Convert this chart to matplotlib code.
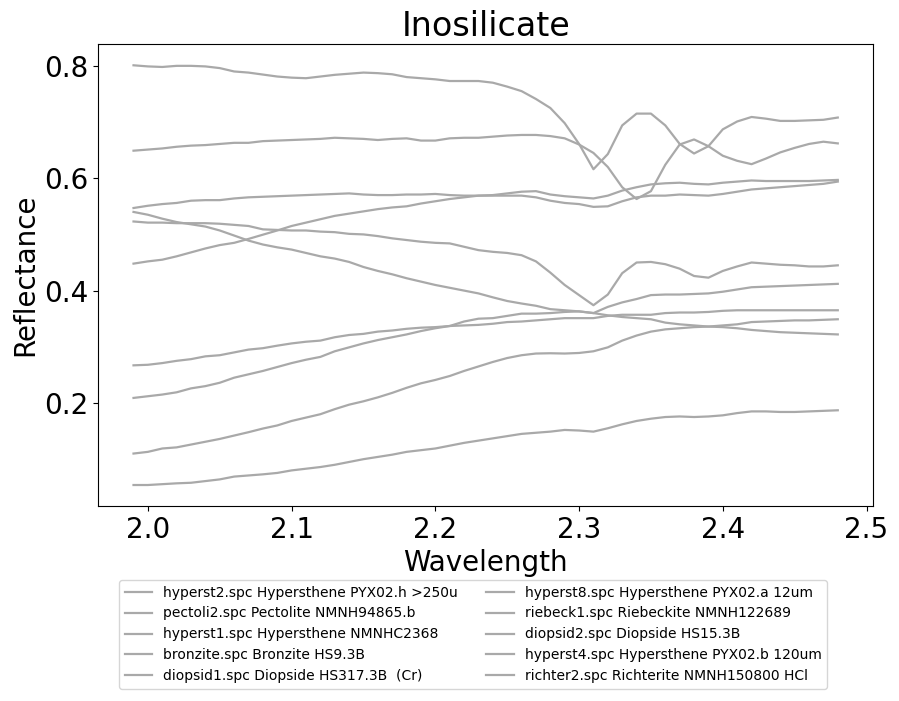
import numpy as np
import matplotlib
matplotlib.use("Agg")
import matplotlib.pyplot as plt

wavelength = [round(1.99 + 0.01 * i, 2) for i in range(50)]

labels = [
    "hyperst2.spc Hypersthene PYX02.h >250u",
    "pectoli2.spc Pectolite NMNH94865.b",
    "hyperst1.spc Hypersthene NMNHC2368",
    "bronzite.spc Bronzite HS9.3B",
    "diopsid1.spc Diopside HS317.3B  (Cr)",
    "hyperst8.spc Hypersthene PYX02.a 12um",
    "riebeck1.spc Riebeckite NMNH122689",
    "diopsid2.spc Diopside HS15.3B",
    "hyperst4.spc Hypersthene PYX02.b 120um",
    "richter2.spc Richterite NMNH150800 HCl",
]

hyperst2 = [0.054, 0.054, 0.0555, 0.057, 0.058, 0.061, 0.064, 0.069, 0.071, 0.073,
            0.0755, 0.080, 0.083, 0.086, 0.090, 0.095, 0.100, 0.104, 0.108, 0.113,
            0.116, 0.119, 0.124, 0.129, 0.133, 0.137, 0.141, 0.145, 0.147, 0.149,
            0.152, 0.151, 0.149, 0.155, 0.162, 0.168, 0.172, 0.175, 0.176, 0.175,
            0.176, 0.178, 0.182, 0.185, 0.185, 0.184, 0.184, 0.185, 0.186, 0.187]

pectoli2 = [0.801, 0.799, 0.798, 0.800, 0.800, 0.799, 0.796, 0.790, 0.788, 0.7845,
            0.781, 0.779, 0.778, 0.781, 0.784, 0.786, 0.788, 0.787, 0.785, 0.780,
            0.778, 0.776, 0.773, 0.773, 0.773, 0.770, 0.763, 0.755, 0.741, 0.725,
            0.698, 0.661, 0.616, 0.643, 0.694, 0.715, 0.715, 0.694, 0.661, 0.644,
            0.657, 0.687, 0.701, 0.709, 0.706, 0.702, 0.702, 0.703, 0.704, 0.708]

hyperst1 = [0.110, 0.113, 0.119, 0.121, 0.126, 0.131, 0.136, 0.142, 0.148, 0.1545,
            0.160, 0.168, 0.174, 0.180, 0.189, 0.197, 0.203, 0.210, 0.218, 0.227,
            0.235, 0.241, 0.248, 0.257, 0.265, 0.273, 0.280, 0.285, 0.288, 0.2885,
            0.288, 0.289, 0.292, 0.299, 0.311, 0.320, 0.327, 0.331, 0.333, 0.335,
            0.336, 0.338, 0.340, 0.344, 0.345, 0.346, 0.347, 0.347, 0.348, 0.349]

bronzite = [0.209, 0.212, 0.215, 0.219, 0.226, 0.230, 0.236, 0.245, 0.251, 0.257,
            0.264, 0.271, 0.277, 0.282, 0.292, 0.299, 0.306, 0.312, 0.317, 0.322,
            0.328, 0.333, 0.337, 0.345, 0.350, 0.351, 0.355, 0.359, 0.359, 0.360,
            0.362, 0.363, 0.360, 0.371, 0.379, 0.385, 0.392, 0.393, 0.393, 0.394,
            0.395, 0.398, 0.402, 0.406, 0.407, 0.408, 0.409, 0.410, 0.411, 0.412]

diopsid1 = [0.523, 0.521, 0.521, 0.520, 0.520, 0.520, 0.519, 0.517, 0.515, 0.509,
            0.508, 0.507, 0.507, 0.505, 0.504, 0.501, 0.500, 0.497, 0.493, 0.490,
            0.487, 0.485, 0.484, 0.478, 0.472, 0.469, 0.467, 0.463, 0.452, 0.432,
            0.410, 0.392, 0.374, 0.393, 0.431, 0.450, 0.451, 0.447, 0.439, 0.426,
            0.423, 0.435, 0.443, 0.450, 0.448, 0.446, 0.445, 0.443, 0.443, 0.445]

hyperst8 = [0.649, 0.651, 0.653, 0.656, 0.658, 0.659, 0.661, 0.663, 0.663, 0.666,
            0.667, 0.668, 0.669, 0.670, 0.672, 0.671, 0.670, 0.668, 0.670, 0.671,
            0.667, 0.667, 0.671, 0.672, 0.672, 0.674, 0.676, 0.677, 0.677, 0.675,
            0.671, 0.660, 0.645, 0.620, 0.584, 0.563, 0.577, 0.624, 0.660, 0.669,
            0.657, 0.640, 0.631, 0.625, 0.635, 0.646, 0.654, 0.661, 0.665, 0.662]

riebeck1 = [0.267, 0.268, 0.271, 0.275, 0.278, 0.283, 0.285, 0.290, 0.295, 0.2975,
            0.302, 0.306, 0.309, 0.311, 0.317, 0.321, 0.323, 0.327, 0.329, 0.332,
            0.334, 0.335, 0.337, 0.338, 0.339, 0.341, 0.344, 0.345, 0.347, 0.349,
            0.351, 0.351, 0.351, 0.355, 0.357, 0.357, 0.357, 0.360, 0.361, 0.361,
            0.362, 0.364, 0.365, 0.365, 0.365, 0.365, 0.365, 0.365, 0.365, 0.365]

diopsid2 = [0.547, 0.551, 0.554, 0.556, 0.560, 0.561, 0.561, 0.564, 0.566, 0.567,
            0.568, 0.569, 0.570, 0.571, 0.572, 0.573, 0.571, 0.570, 0.570, 0.571,
            0.571, 0.572, 0.570, 0.569, 0.569, 0.569, 0.569, 0.569, 0.566, 0.560,
            0.556, 0.554, 0.549, 0.550, 0.559, 0.566, 0.569, 0.569, 0.571, 0.570,
            0.569, 0.572, 0.576, 0.580, 0.582, 0.584, 0.586, 0.588, 0.590, 0.594]

hyperst4 = [0.540, 0.535, 0.528, 0.522, 0.518, 0.514, 0.507, 0.498, 0.489, 0.482,
            0.477, 0.473, 0.467, 0.461, 0.457, 0.451, 0.442, 0.435, 0.429, 0.422,
            0.416, 0.410, 0.405, 0.400, 0.395, 0.388, 0.3815, 0.377, 0.373, 0.367,
            0.365, 0.363, 0.360, 0.356, 0.353, 0.351, 0.349, 0.343, 0.340, 0.338,
            0.336, 0.335, 0.333, 0.330, 0.328, 0.326, 0.325, 0.324, 0.323, 0.322]

richter2 = [0.448, 0.452, 0.455, 0.461, 0.468, 0.475, 0.481, 0.485, 0.492, 0.4995,
            0.507, 0.515, 0.521, 0.527, 0.533, 0.537, 0.541, 0.545, 0.548, 0.550,
            0.555, 0.559, 0.563, 0.566, 0.569, 0.570, 0.573, 0.576, 0.577, 0.571,
            0.568, 0.566, 0.564, 0.569, 0.578, 0.584, 0.589, 0.591, 0.592, 0.590,
            0.589, 0.592, 0.594, 0.596, 0.595, 0.595, 0.595, 0.595, 0.596, 0.597]

series = [hyperst2, pectoli2, hyperst1, bronzite, diopsid1,
          hyperst8, riebeck1, diopsid2, hyperst4, richter2]

fig = plt.figure(figsize=(8.99, 7.01), dpi=100)
ax = fig.add_axes([98.3 / 899, 1 - 506 / 701, (873 - 98.3) / 899, (506 - 44.3) / 701])

for lab, ys in zip(labels, series):
    ax.plot(wavelength, ys, color="darkgray", linewidth=1.6, label=lab)

ax.set_title("Inosilicate", fontsize=24)
ax.set_xlabel("Wavelength", fontsize=20)
ax.set_ylabel("Reflectance", fontsize=20)
ax.tick_params(axis="both", labelsize=20)
ax.set_xticks([2.0, 2.1, 2.2, 2.3, 2.4, 2.5])
ax.set_yticks([0.2, 0.4, 0.6, 0.8])

fig.legend(loc="upper left", bbox_to_anchor=(112 / 899, 1 - 573 / 701),
           ncol=2, fontsize=10, frameon=True)

fig.savefig("out.png", dpi=100)
